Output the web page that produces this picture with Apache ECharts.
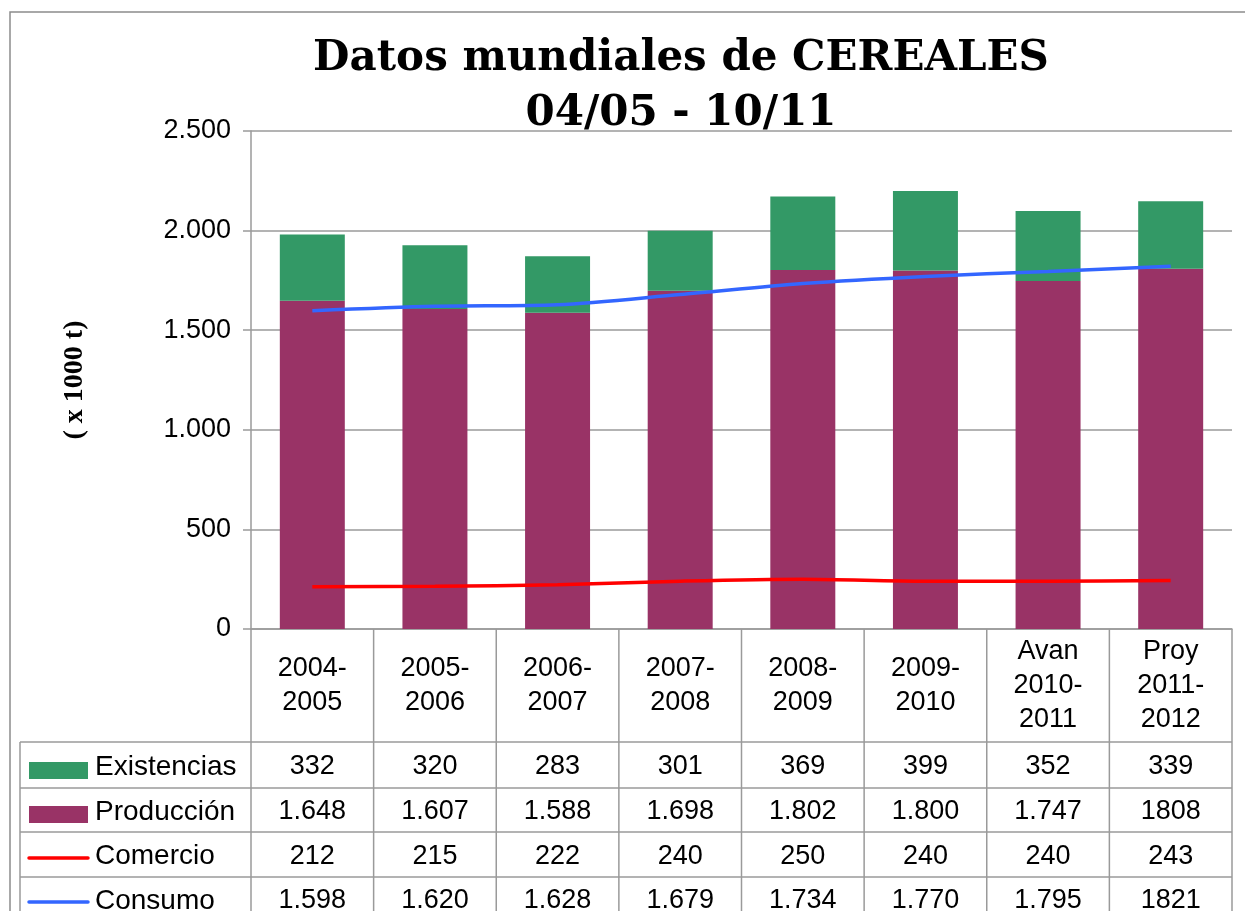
<!DOCTYPE html>
<html>
<head>
<meta charset="utf-8">
<title>Datos mundiales de CEREALES</title>
<script src="https://cdn.jsdelivr.net/npm/echarts@6/dist/echarts.min.js"></script>
<style>
  html, body { margin: 0; padding: 0; background: #fff; }
  #main { width: 1245px; height: 911px; }
</style>
</head>
<body>
<div id="main"></div>
<script>
// 类别 / campañas
const campanas = ['2004-\n2005', '2005-\n2006', '2006-\n2007', '2007-\n2008', '2008-\n2009', '2009-\n2010', 'Avan\n2010-\n2011', 'Proy\n2011-\n2012']
// series
const existencias = [332, 320, 283, 301, 369, 399, 352, 339]
const produccion = [1648, 1607, 1588, 1698, 1802, 1800, 1747, 1808]
const comercio = [212, 215, 222, 240, 250, 240, 240, 243]
const consumo = [1598, 1620, 1628, 1679, 1734, 1770, 1795, 1821]
// texto de la tabla tal como sale en la imagen (las dos últimas sin punto)
const existenciasTxt = ['332', '320', '283', '301', '369', '399', '352', '339']
const produccionTxt = ['1.648', '1.607', '1.588', '1.698', '1.802', '1.800', '1.747', '1808']
const comercioTxt = ['212', '215', '222', '240', '250', '240', '240', '243']
const consumoTxt = ['1.598', '1.620', '1.628', '1.679', '1.734', '1.770', '1.795', '1821']
const nombres = ['Existencias', 'Producción', 'Comercio', 'Consumo']
// eje y
const yMin = 0
const yMax = 2500
const yStep = 500

const colores = {
    existencias: '#339966',
    produccion: '#993366',
    comercio: '#ff0000',
    consumo: '#3366ff'
}

// 区域
const plotLeft = 251
const plotRight = 1232
const plotTop = 131
const plotBottom = 629
const gris = '#9a9a9a'
const fuente = '"Liberation Sans", Arial, sans-serif'

const myChart = echarts.init(document.querySelector('#main'))

// tabla de datos debajo del eje
function buildTable() {
    const els = []
    const catW = (plotRight - plotLeft) / campanas.length
    const rows = [742, 788, 832, 877, 921]
    const line = (x1, y1, x2, y2) => ({
        type: 'line',
        shape: { x1, y1, x2, y2 },
        style: { stroke: gris, lineWidth: 1.5 },
        silent: true
    })
    // horizontales
    rows.forEach(y => els.push(line(20, y, plotRight, y)))
    // verticales
    els.push(line(20, rows[0], 20, 1000))
    for (let i = 0; i <= campanas.length; i++) {
        const x = plotLeft + i * catW
        els.push(line(x, plotBottom, x, 1000))
    }
    // contenido
    const datos = [existenciasTxt, produccionTxt, comercioTxt, consumoTxt]
    datos.forEach((fila, r) => {
        const yc = (rows[r] + rows[r + 1]) / 2 + 2
        fila.forEach((txt, i) => {
            els.push({
                type: 'text',
                x: plotLeft + (i + 0.5) * catW,
                y: yc,
                style: { text: txt, fill: '#000', font: '27px ' + fuente, textAlign: 'center', textVerticalAlign: 'middle' },
                silent: true
            })
        })
        // nombre
        els.push({
            type: 'text',
            x: 95,
            y: yc,
            style: { text: nombres[r], fill: '#000', font: '28px ' + fuente, textAlign: 'left', textVerticalAlign: 'middle' },
            silent: true
        })
    })
    // claves de la leyenda
    els.push({ type: 'rect', shape: { x: 29, y: 762, width: 59, height: 17 }, style: { fill: colores.existencias }, silent: true })
    els.push({ type: 'rect', shape: { x: 29, y: 806, width: 59, height: 17 }, style: { fill: colores.produccion }, silent: true })
    els.push({ type: 'line', shape: { x1: 29, y1: 858, x2: 88, y2: 858 }, style: { stroke: colores.comercio, lineWidth: 3.5, lineCap: 'round' }, silent: true })
    els.push({ type: 'line', shape: { x1: 29, y1: 902, x2: 88, y2: 902 }, style: { stroke: colores.consumo, lineWidth: 3.5, lineCap: 'round' }, silent: true })
    // borde del gráfico
    els.push({ type: 'rect', shape: { x: 10, y: 12, width: 1300, height: 1000 }, style: { fill: 'none', stroke: '#8c8c8c', lineWidth: 1.5 }, silent: true, z: -1 })
    return els
}

const option = {
    animation: false,
    title: {
        text: 'Datos mundiales de CEREALES\n04/05 - 10/11',
        left: 676,
        top: 27,
        textAlign: 'center',
        textStyle: {
            fontFamily: '"DejaVu Serif", serif',
            fontWeight: 'bold',
            fontSize: 42,
            lineHeight: 55,
            color: '#000'
        }
    },
    grid: {
        left: plotLeft,
        right: 1245 - plotRight,
        top: plotTop,
        bottom: 911 - plotBottom
    },
    xAxis: {
        type: 'category',
        data: campanas,
        axisLine: { lineStyle: { color: gris, width: 1.5 } },
        axisTick: { show: false },
        axisLabel: {
            margin: 57,
            verticalAlign: 'middle',
            lineHeight: 34,
            fontSize: 27,
            fontFamily: fuente,
            color: '#000'
        }
    },
    yAxis: {
        type: 'value',
        min: yMin,
        max: yMax,
        interval: yStep,
        name: '( x 1000 t)',
        nameLocation: 'middle',
        nameRotate: 90,
        nameGap: 162,
        nameTextStyle: {
            fontFamily: '"Liberation Serif", serif',
            fontWeight: 'bold',
            fontSize: 28,
            color: '#000'
        },
        axisLine: { show: true, lineStyle: { color: gris, width: 1.5 } },
        axisTick: { show: true, length: 8, lineStyle: { color: gris, width: 1.5 } },
        splitLine: { lineStyle: { color: gris, width: 1.5 } },
        axisLabel: {
            margin: 20,
            fontSize: 27,
            fontFamily: fuente,
            color: '#000',
            formatter: v => String(v).replace(/\B(?=(\d{3})+(?!\d))/g, '.')
        }
    },
    series: [
        {
            name: 'Producción',
            type: 'bar',
            stack: 'total',
            barWidth: '53%',
            data: produccion,
            itemStyle: { color: colores.produccion }
        },
        {
            name: 'Existencias',
            type: 'bar',
            stack: 'total',
            barWidth: '53%',
            data: existencias,
            itemStyle: { color: colores.existencias }
        },
        {
            name: 'Comercio',
            type: 'line',
            data: comercio,
            smooth: 0.3,
            showSymbol: false,
            lineStyle: { color: colores.comercio, width: 3.5 },
            z: 3
        },
        {
            name: 'Consumo',
            type: 'line',
            data: consumo,
            smooth: 0.3,
            showSymbol: false,
            lineStyle: { color: colores.consumo, width: 3.5 },
            z: 3
        }
    ],
    graphic: buildTable()
}
myChart.setOption(option)
</script>
</body>
</html>
